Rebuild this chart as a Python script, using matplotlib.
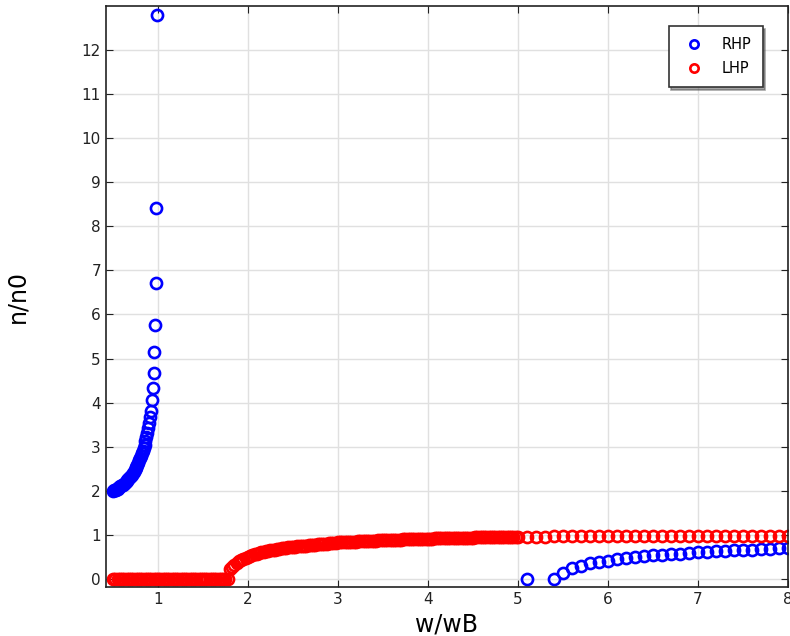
import matplotlib
matplotlib.use("Agg")
import matplotlib.pyplot as plt

# RHP branch below the resonance (w/wB < 1)
rhp_x_low = [0.50, 0.51, 0.52, 0.53, 0.54, 0.55, 0.56, 0.57, 0.58, 0.59,
             0.60, 0.61, 0.62, 0.63, 0.64, 0.65, 0.66, 0.67, 0.68, 0.69,
             0.70, 0.71, 0.72, 0.73, 0.74, 0.75, 0.76, 0.77, 0.78, 0.79,
             0.80, 0.81, 0.82, 0.83, 0.84, 0.85, 0.86, 0.87, 0.88, 0.89,
             0.90, 0.91, 0.92, 0.93, 0.94, 0.95, 0.958, 0.966, 0.974, 0.982, 0.99]
rhp_n_low = [2.00, 2.01, 2.02, 2.03, 2.04, 2.05, 2.07, 2.08, 2.10, 2.11,
             2.13, 2.14, 2.16, 2.18, 2.20, 2.22, 2.24, 2.26, 2.29, 2.31,
             2.34, 2.37, 2.40, 2.43, 2.47, 2.51, 2.55, 2.59, 2.64, 2.69,
             2.74, 2.79, 2.85, 2.91, 2.98, 3.05, 3.12, 3.22, 3.32, 3.43,
             3.55, 3.68, 3.82, 4.05, 4.33, 4.68, 5.14, 5.77, 6.72, 8.42, 12.8]

# RHP branch above cutoff
rhp_x_high = [5.1, 5.4, 5.5, 5.6, 5.7, 5.8, 5.9, 6.0, 6.1, 6.2, 6.3, 6.4, 6.5,
              6.6, 6.7, 6.8, 6.9, 7.0, 7.1, 7.2, 7.3, 7.4, 7.5, 7.6, 7.7, 7.8,
              7.9, 8.0]
rhp_n_high = [0.0, 0.0, 0.14, 0.25, 0.30, 0.36, 0.39, 0.42, 0.45, 0.47, 0.50,
              0.52, 0.54, 0.55, 0.57, 0.58, 0.59, 0.61, 0.62, 0.63, 0.64, 0.65,
              0.66, 0.67, 0.68, 0.69, 0.70, 0.71]

# LHP, fine grid 0.5 .. 5.0 (step 0.025), then coarse 5.1 .. 8.0 (step 0.1)
lhp_x_fine = [round(0.5 + 0.025 * i, 3) for i in range(181)]
lhp_n_fine = [0.0, 0.0, 0.0, 0.0, 0.0, 0.0, 0.0, 0.0, 0.0, 0.0, 0.0, 0.0, 0.0,
              0.0, 0.0, 0.0, 0.0, 0.0, 0.0, 0.0, 0.0, 0.0, 0.0, 0.0, 0.0, 0.0,
              0.0, 0.0, 0.0, 0.0, 0.0, 0.0, 0.0, 0.0, 0.0, 0.0, 0.0, 0.0, 0.0,
              0.0, 0.0, 0.0, 0.0, 0.0, 0.0, 0.0, 0.0, 0.0, 0.0, 0.0, 0.0, 0.0,
              0.22, 0.28, 0.33, 0.37, 0.40, 0.43, 0.46, 0.485, 0.51, 0.53,
              0.55, 0.565, 0.58, 0.595, 0.61, 0.62, 0.63, 0.64, 0.65, 0.66,
              0.67, 0.68, 0.69, 0.695, 0.70, 0.71, 0.72, 0.725, 0.73, 0.735,
              0.74, 0.745, 0.75, 0.755, 0.76, 0.765, 0.77, 0.775, 0.78, 0.785,
              0.79, 0.795, 0.80, 0.805, 0.81, 0.815, 0.82, 0.825, 0.83,
              0.833, 0.835, 0.838, 0.84, 0.843, 0.845, 0.848, 0.85, 0.853,
              0.855, 0.858, 0.86, 0.863, 0.865, 0.868, 0.87, 0.873, 0.875,
              0.878, 0.88, 0.883, 0.885, 0.887, 0.89, 0.892, 0.893, 0.895,
              0.896, 0.898, 0.90, 0.903, 0.905, 0.907, 0.908, 0.91, 0.911,
              0.913, 0.914, 0.916, 0.917, 0.919, 0.92, 0.922, 0.923, 0.925,
              0.926, 0.928, 0.929, 0.931, 0.932, 0.933, 0.934, 0.935, 0.936,
              0.937, 0.938, 0.939, 0.94, 0.941, 0.942, 0.943, 0.944, 0.945,
              0.946, 0.947, 0.948, 0.949, 0.95, 0.951, 0.952, 0.953, 0.954,
              0.955, 0.956, 0.957, 0.958, 0.959, 0.96, 0.961, 0.962]
lhp_x_coarse = [5.1, 5.2, 5.3, 5.4, 5.5, 5.6, 5.7, 5.8, 5.9, 6.0, 6.1, 6.2,
                6.3, 6.4, 6.5, 6.6, 6.7, 6.8, 6.9, 7.0, 7.1, 7.2, 7.3, 7.4,
                7.5, 7.6, 7.7, 7.8, 7.9, 8.0]
lhp_n_coarse = [0.963, 0.964, 0.965, 0.966, 0.967, 0.968, 0.969, 0.970,
                0.971, 0.972, 0.972, 0.973, 0.973, 0.974, 0.974, 0.975, 0.975,
                0.976, 0.976, 0.977, 0.977, 0.978, 0.978, 0.979, 0.979, 0.979,
                0.980, 0.980, 0.980, 0.980]

fig = plt.figure(figsize=(7.9, 6.36), dpi=100)
ax = fig.add_axes([0.134, 0.077, 0.863, 0.914])

mk = dict(marker='o', linestyle='none', markerfacecolor='none',
          markersize=8, markeredgewidth=1.9)
ax.plot(rhp_x_low + rhp_x_high, rhp_n_low + rhp_n_high, color='#0000ff',
        label='RHP', **mk)
ax.plot(lhp_x_fine + lhp_x_coarse, lhp_n_fine + lhp_n_coarse, color='#ff0000',
        label='LHP', **mk)

ax.set_xlim(0.42, 8.0)
ax.set_ylim(-0.18, 13.0)
ax.set_xticks(range(1, 9))
ax.set_yticks(range(0, 13))
ax.tick_params(direction='in', top=True, right=True, length=5,
               labelsize=11, colors='#222222')
ax.grid(True, color='#e0e0e0', linewidth=1)
ax.set_axisbelow(True)
for s in ax.spines.values():
    s.set_color('#222222')
    s.set_linewidth(1.2)

ax.set_xlabel('w/wB', fontsize=17, labelpad=4)
ax.set_ylabel('n/n0', fontsize=17, labelpad=38)

leg = ax.legend(loc='upper right', bbox_to_anchor=(0.974, 0.978), fontsize=10.5,
                fancybox=False, shadow=True, edgecolor='#333333',
                handletextpad=0.9, borderpad=0.75, labelspacing=0.65,
                markerscale=0.75)
leg.get_frame().set_linewidth(1.2)

fig.savefig('out.png', dpi=100)
